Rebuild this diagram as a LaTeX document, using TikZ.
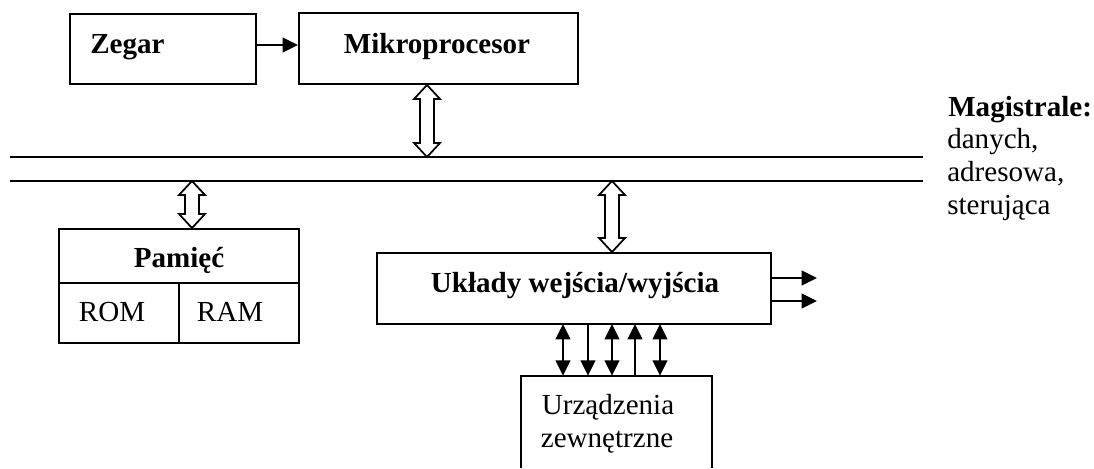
\documentclass[tikz,border=0pt]{standalone}
\usepackage{fontspec}
\setmainfont{Liberation Serif}
\usetikzlibrary{arrows.meta,calc,fit}

% hollow double-headed bus arrow between two points on one vertical
\newcommand{\busarrow}[2]{%
  \draw[hollowarrow] let \p1=(#1), \p2=(#2) in
    (\x1,\y1) -- (\x1+9.75pt,\y1-10.5pt) -- (\x1+5.25pt,\y1-10.5pt)
    -- (\x1+5.25pt,\y2+10.5pt) -- (\x1+9.75pt,\y2+10.5pt) -- (\x1,\y2)
    -- (\x1-9.75pt,\y2+10.5pt) -- (\x1-5.25pt,\y2+10.5pt)
    -- (\x1-5.25pt,\y1-10.5pt) -- (\x1-9.75pt,\y1-10.5pt) -- cycle;}

\begin{document}
\begin{tikzpicture}[x=0.75pt,y=-0.75pt,
  font=\fontsize{21.8}{24}\selectfont,
  box/.style={draw,line width=1.5pt,inner sep=0pt},
  txt/.style={inner sep=0pt,anchor=base},
  busline/.style={line width=1.5pt},
  hollowarrow/.style={line width=1.3pt,fill=white,line join=miter},
  sig/.style={line width=1.3pt,-{Triangle[length=11.5pt,width=11pt]}},
  sigboth/.style={line width=1.3pt,{Triangle[length=11.5pt,width=11pt]}-{Triangle[length=11.5pt,width=11pt]}},
  sigback/.style={line width=1.3pt,{Triangle[length=11.5pt,width=11pt]}-}]
\useasboundingbox (0,0) rectangle (1094,468);

% blocks
\node[box,fit={(70,14) (256,84)}] (zegar) {};
\node[box,fit={(299,13) (578,84)}] (mikro) {};
\node[box,fit={(59,229) (299,343)}] (pamiec) {};
\node[box,fit={(377,253) (771,324)}] (io) {};
\node[inner sep=0pt,fit={(521,376) (712,468)}] (urz) {};
\draw[line width=1.5pt] (urz.south west) -- (urz.north west) -- (urz.north east) -- (urz.south east);

% memory split into ROM and RAM
\coordinate (pmid) at (179,283);
\draw[line width=1.5pt] (pamiec.west |- pmid) -- (pamiec.east |- pmid);
\draw[line width=1.5pt] (pmid) -- (pmid |- pamiec.south);

% labels
\node[txt,anchor=base west] (zegart) at (90,53) {\bfseries Zegar};
\node[txt] (mikrot) at (437,53) {\bfseries Mikroprocesor};
\node[txt] (pamt) at (179,267) {\bfseries Pamięć};
\node[txt] (rom) at (112,321) {ROM};
\node[txt] (ram) at (230,321) {RAM};
\node[txt] (iot) at (575,292) {\bfseries Układy wejścia/wyjścia};
\node[txt] (urz1) at (608,414) {Urządzenia};
\node[txt] (urz2) at (607,447) {zewnętrzne};
\node[txt,anchor=base west] (mag) at (948,116) {\bfseries Magistrale:};
\node[txt,anchor=base west] (mag1) at (947,148) {danych,};
\node[txt,anchor=base west] (mag2) at (947,181) {adresowa,};
\node[txt,anchor=base west] (mag3) at (947,214) {sterująca};

% system buses
\coordinate (bus1w) at (10,157);
\coordinate (bus1e) at (923,157);
\coordinate (bus2w) at (10,181);
\coordinate (bus2e) at (923,181);
\draw[busline] (bus1w) -- (bus1e);
\draw[busline] (bus2w) -- (bus2e);

% bus connections
\coordinate (tapm) at (427,157);
\coordinate (tapp) at (192,181);
\coordinate (tapio) at (612,181);
\busarrow{tapm |- mikro.south}{tapm}
\busarrow{tapp}{tapp |- pamiec.north}
\busarrow{tapio}{tapio |- io.north}

% clock signal
\draw[sig] (zegar.east |- 0,45) -- (mikro.west |- 0,45);

% outputs
\coordinate (out1) at (817,278);
\coordinate (out2) at (817,301);
\draw[sig] (io.east |- out1) -- (out1);
\draw[sig] (io.east |- out2) -- (out2);

% links to peripherals
\coordinate (l1) at (563,324);
\coordinate (l2) at (588,324);
\coordinate (l3) at (612,324);
\coordinate (l4) at (635,324);
\coordinate (l5) at (660,324);
\draw[sigboth] (l1) -- (l1 |- urz.north);
\draw[sig] (l2) -- (l2 |- urz.north);
\draw[sigboth] (l3) -- (l3 |- urz.north);
\draw[sigback] (l4) -- (l4 |- urz.north);
\draw[sigboth] (l5) -- (l5 |- urz.north);
\end{tikzpicture}
\end{document}
